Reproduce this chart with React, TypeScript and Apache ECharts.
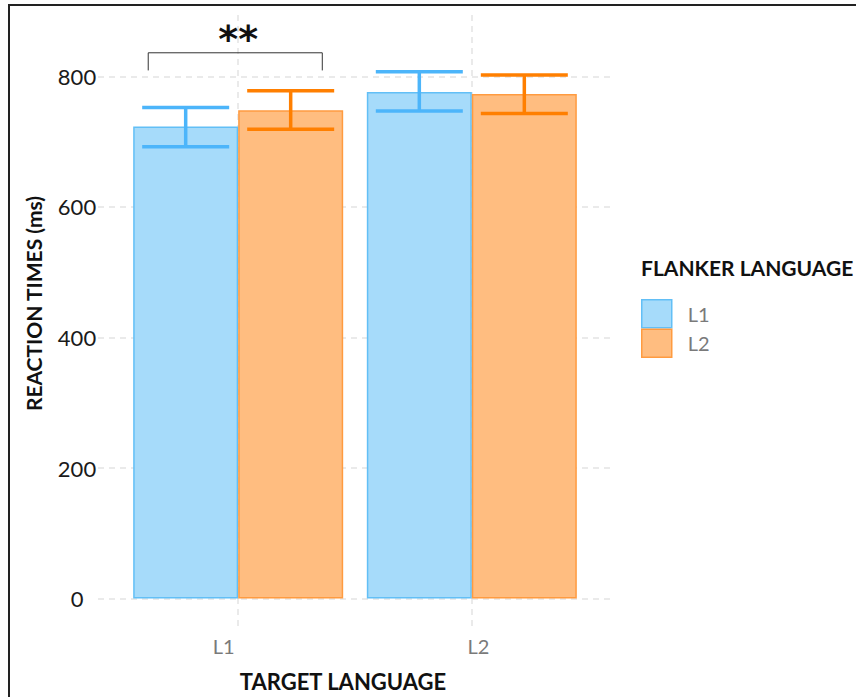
import React, { useEffect, useRef } from 'react';
import * as echarts from 'echarts';

// ---- data ----
const targetLanguages = ['L1', 'L2'];
const targetPositions = [1, 2];
const flankerLanguages = ['L1', 'L2'];
const meanFlankerL1 = [723, 776];
const lowerFlankerL1 = [692, 747];
const upperFlankerL1 = [752, 807];
const meanFlankerL2 = [748, 773];
const lowerFlankerL2 = [719, 743];
const upperFlankerL2 = [778, 802];
const yTicks = [0, 200, 400, 600, 800];
// significance bracket: x from, x to, y of bar, y of tips
const significanceBracket = [0.615, 1.36, 836, 809];
const significanceLabel = '**';
const significanceLabelPos = [1, 857];

const FONT = 'Lato, "Open Sans", sans-serif';
const BAR_W = 105;
const CAP_W = 87;
const BLUE_FILL = '#a6dbfa';
const BLUE_BORDER = '#62bff6';
const BLUE_ERR = '#4cb5fa';
const ORANGE_FILL = '#ffbd80';
const ORANGE_BORDER = '#ff9b40';
const ORANGE_ERR = '#ff7f00';

function errorSeries(name: string, lo: number[], hi: number[], color: string, side: number) {
  return {
    type: 'custom',
    name: name + ' error',
    z: 4,
    silent: true,
    encode: { x: 0, y: [1, 2] },
    data: targetPositions.map((x, i) => [x, lo[i], hi[i]]),
    renderItem: (params: any, api: any) => {
      const x = api.value(0);
      const pLo = api.coord([x, api.value(1)]);
      const pHi = api.coord([x, api.value(2)]);
      const cx = pLo[0] + side * BAR_W / 2;
      const style = { stroke: color, lineWidth: 3.5 };
      return {
        type: 'group',
        children: [
          { type: 'line', shape: { x1: cx, y1: pLo[1], x2: cx, y2: pHi[1] }, style },
          { type: 'line', shape: { x1: cx - CAP_W / 2, y1: pLo[1], x2: cx + CAP_W / 2, y2: pLo[1] }, style },
          { type: 'line', shape: { x1: cx - CAP_W / 2, y1: pHi[1], x2: cx + CAP_W / 2, y2: pHi[1] }, style },
        ],
      };
    },
  };
}

export default function App() {
  const ref = useRef<HTMLDivElement>(null);
  useEffect(() => {
    if (!ref.current) return;
    const chart = echarts.init(ref.current, undefined, { renderer: 'svg' });
    const option: any = {
      animation: false,
      backgroundColor: '#ffffff',
      textStyle: { fontFamily: FONT },
      grid: { left: 98, right: 244, top: 11, bottom: 67, containLabel: false },
      title: {
        text: 'FLANKER LANGUAGE',
        left: 641,
        top: 257,
        padding: 0,
        textStyle: { fontFamily: FONT, fontSize: 21, fontWeight: 'bold', color: '#111111' },
      },
      legend: {
        data: flankerLanguages.map((n, i) => ({
          name: n,
          itemStyle: i === 0
            ? { color: BLUE_FILL, borderColor: BLUE_BORDER, borderWidth: 1.5 }
            : { color: ORANGE_FILL, borderColor: ORANGE_BORDER, borderWidth: 1.5 },
        })),
        orient: 'vertical',
        left: 641,
        top: 299,
        padding: 0,
        itemWidth: 30,
        itemHeight: 28,
        itemGap: 0,
        icon: 'rect',
        selectedMode: false,
        textStyle: { fontFamily: FONT, fontSize: 20, color: '#7a7a7a', padding: [0, 0, 0, 11] },
      },
      xAxis: {
        type: 'value',
        min: 0.4,
        max: 2.6,
        axisLine: { show: false },
        axisTick: { show: false },
        splitLine: { show: false },
        axisLabel: {
          customValues: targetPositions,
          formatter: (v: number) => {
            const i = targetPositions.indexOf(v);
            return i < 0 ? '' : `{t${i}|${targetLanguages[i]}}`;
          },
          rich: {
            t0: { color: '#7a7a7a', fontSize: 20, fontFamily: FONT, padding: [0, 29, 0, 0] },
            t1: { color: '#7a7a7a', fontSize: 20, fontFamily: FONT, padding: [0, 0, 0, 13] },
          },
          color: '#7a7a7a',
          fontSize: 20,
          fontFamily: FONT,
          margin: 10,
        },
        name: 'TARGET LANGUAGE',
        nameLocation: 'middle',
        nameGap: 44,
        nameTextStyle: { fontFamily: FONT, fontSize: 22, fontWeight: 'bold', color: '#111111', padding: [0, 24, 0, 0] },
      },
      yAxis: {
        type: 'value',
        min: -42,
        max: 900,
        axisLine: { show: false },
        axisTick: { show: false },
        splitLine: { show: false },
        axisLabel: {
          customValues: yTicks,
          color: '#1a1a1a',
          fontSize: 22,
          fontFamily: FONT,
          align: 'center',
          margin: 21,
        },
        name: 'REACTION TIMES (ms)',
        nameLocation: 'middle',
        nameGap: 54,
        nameTextStyle: { fontFamily: FONT, fontSize: 21, fontWeight: 'bold', color: '#111111', padding: [0, 0, 0, 30] },
      },
      graphic: [
        {
          type: 'rect',
          shape: { x: 9, y: 5, width: 900, height: 800 },
          style: { fill: 'none', stroke: '#222222', lineWidth: 2 },
          silent: true,
          z: 100,
        },
      ],
      series: [
        {
          type: 'line',
          name: 'grid',
          data: [],
          silent: true,
          z: 0,
          markLine: {
            silent: true,
            z: 0,
            symbol: ['none', 'none'],
            label: { show: false },
            lineStyle: { type: [6, 5], color: '#e4e4e4', width: 1.5 },
            data: [
              ...yTicks.map((v) => ({ yAxis: v })),
              ...targetPositions.map((v) => ({ xAxis: v })),
            ],
          },
        },
        {
          type: 'bar',
          name: flankerLanguages[0],
          z: 2,
          barWidth: BAR_W,
          barGap: '0%',
          data: targetPositions.map((x, i) => [x, meanFlankerL1[i]]),
          itemStyle: { color: BLUE_FILL, borderColor: BLUE_BORDER, borderWidth: 1.5 },
        },
        {
          type: 'bar',
          name: flankerLanguages[1],
          z: 3,
          barWidth: BAR_W,
          barGap: '0%',
          data: targetPositions.map((x, i) => [x, meanFlankerL2[i]]),
          itemStyle: { color: ORANGE_FILL, borderColor: ORANGE_BORDER, borderWidth: 1.5 },
        },
        errorSeries(flankerLanguages[0], lowerFlankerL1, upperFlankerL1, BLUE_ERR, -1),
        errorSeries(flankerLanguages[1], lowerFlankerL2, upperFlankerL2, ORANGE_ERR, 1),
        {
          type: 'custom',
          name: 'significance',
          z: 5,
          silent: true,
          encode: { x: [0, 1], y: [2, 3] },
          data: [significanceBracket],
          renderItem: (params: any, api: any) => {
            const a = api.coord([api.value(0), api.value(2)]);
            const b = api.coord([api.value(1), api.value(2)]);
            const at = api.coord([api.value(0), api.value(3)]);
            const bt = api.coord([api.value(1), api.value(3)]);
            const t = api.coord(significanceLabelPos);
            return {
              type: 'group',
              children: [
                {
                  type: 'polyline',
                  shape: { points: [at, a, b, bt] },
                  style: { stroke: '#333333', lineWidth: 1, fill: 'none' },
                },
                {
                  type: 'text',
                  x: t[0],
                  y: t[1],
                  style: {
                    text: significanceLabel,
                    fontSize: 38,
                    fontWeight: 'bold',
                    fontFamily: '"DejaVu Sans", sans-serif',
                    fill: '#111111',
                    align: 'center',
                    verticalAlign: 'middle',
                  },
                },
              ],
            };
          },
        },
      ],
    };
    chart.setOption(option);
    return () => chart.dispose();
  }, []);
  return (
    <div
      ref={ref}
      style={{ position: 'absolute', left: 0, top: 0, width: 856, height: 697 }}
    />
  );
}
